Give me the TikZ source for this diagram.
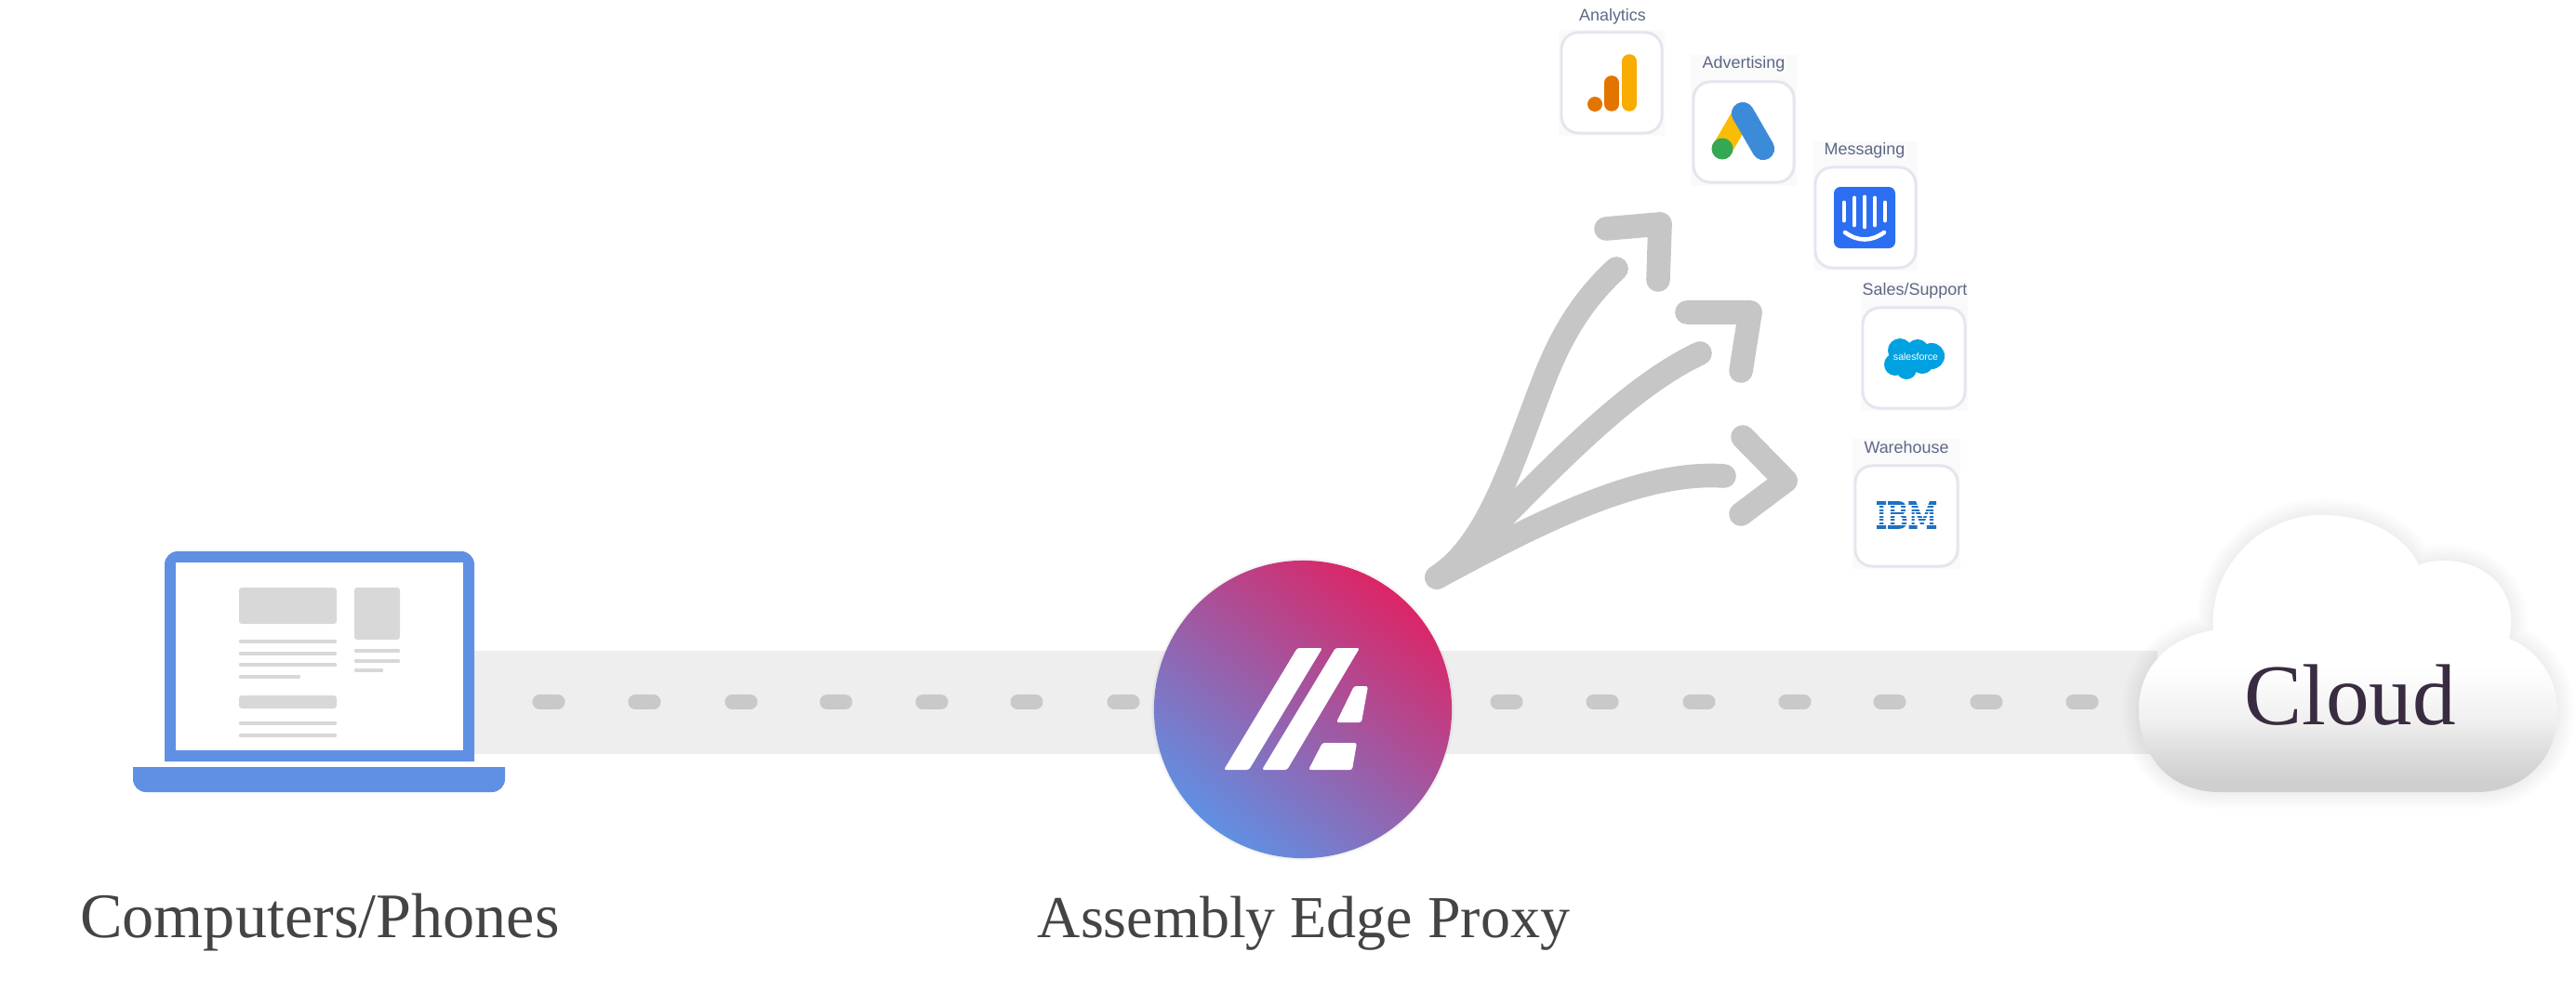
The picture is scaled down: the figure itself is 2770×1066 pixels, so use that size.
\documentclass[tikz,border=0pt]{standalone}
\usepackage{fontspec}
\usepackage{graphicx}
\setmainfont{Liberation Serif}
\newfontfamily\cardfont{Liberation Sans}
\newfontfamily\ibmfont[FakeBold=4.5]{DejaVu Serif}
\definecolor{roadgray}{HTML}{EEEEEE}
\definecolor{dashgray}{HTML}{C9C9C9}
\definecolor{fangray}{HTML}{C6C6C6}
\definecolor{sketchgray}{HTML}{D8D8D8}
\definecolor{laptopblue}{HTML}{6090E3}
\definecolor{proxyred}{HTML}{DC2566}
\definecolor{cardedge}{HTML}{E4E6EE}
\definecolor{cardback}{HTML}{FAFAFB}
\definecolor{cardtext}{HTML}{5D6784}
\definecolor{captiontext}{HTML}{444444}
\definecolor{cloudtext}{HTML}{3A2C40}
\definecolor{gaorange}{HTML}{E37400}
\definecolor{gayellow}{HTML}{F9AB00}
\definecolor{adsyellow}{HTML}{FABC04}
\definecolor{adsgreen}{HTML}{34A852}
\definecolor{adsblue}{HTML}{3C8BD9}
\definecolor{chatblue}{HTML}{2C6EF2}
\definecolor{sfblue}{HTML}{00A1E0}
\definecolor{ibmblue}{HTML}{1F70C1}
\pgfdeclareverticalshading{cloudshade}{100bp}{color(0bp)=(white!81!black); color(27bp)=(white!81!black); color(32.5bp)=(white!87!black); color(38bp)=(white!94!black); color(44bp)=(white!98!black); color(48bp)=(white); color(100bp)=(white)}
\tikzset{
	road/.style={roadgray,line width=31.6pt},
	roaddash/.style={dashgray,line width=4.3pt,line cap=round},
	fanline/.style={fangray,line width=7.3pt,line cap=round,line join=round},
	sketchline/.style={sketchgray,line width=1.3pt,line cap=round},
	sketchblock/.style={sketchgray,rounded corners=.03cm},
	appcard/.style={draw=cardedge,fill=white,line width=.85pt,rounded corners=.18cm,minimum width=1.08cm,minimum height=1.08cm,inner sep=0pt},
	applabel/.style={text=cardtext,font=\cardfont\fontsize{5.1}{6}\selectfont,inner sep=0pt},
	caption/.style={text=captiontext,inner sep=0pt,anchor=base},
	cloudshape/.style={insert path={(2387,852) .. controls (2330,852) and (2300,810) .. (2300,763) .. controls (2300,715) and (2335,685) .. (2380,678) .. controls (2375,610) and (2430,554) .. (2497,554) .. controls (2545,554) and (2585,575) .. (2601,608) .. controls (2610,604) and (2618,603) .. (2627,603) .. controls (2670,603) and (2700,630) .. (2700,667) .. controls (2700,675) and (2699,681) .. (2698,687) .. controls (2730,700) and (2750,730) .. (2750,767) .. controls (2750,815) and (2715,852) .. (2663,852) -- cycle}}
}
\begin{document}
\begin{tikzpicture}[x=.01cm,y=-.01cm]
	\useasboundingbox (0,0) rectangle (2770,1066);
	\coordinate (laptop) at (510,755.5);
	\coordinate (edge) at (1401,755.5);
	\coordinate (cloud) at (2320,755.5);
	\draw[road] (laptop) -- (edge) -- (cloud);
	\foreach \x in {590,693,797,899,1002,1104,1208,1620,1723,1827,1930,2032,2136,2239}
		\draw[roaddash] (\x-10,755) -- (\x+10,755);

	\fill[laptopblue] (177,819) [rounded corners=.14cm] -- (177,593) -- (510,593) [sharp corners] -- (510,819) -- cycle;
	\node[fill=white,minimum width=3.09cm,minimum height=2.02cm,inner sep=0pt] (screen) at (343.5,706) {};
	\fill[laptopblue] (143,825) -- (543,825) [rounded corners=.14cm] -- (543,852) -- (143,852) [sharp corners] -- cycle;
	\fill[sketchblock] (257,632) rectangle (362,671);
	\fill[sketchblock] (257,748) rectangle (362,762);
	\fill[sketchblock] (381,632) rectangle (430,688);
	\draw[sketchline] (259,690) -- (360,690);
	\draw[sketchline] (259,703) -- (360,703);
	\draw[sketchline] (259,715) -- (360,715);
	\draw[sketchline] (259,728) -- (321,728);
	\draw[sketchline] (259,778) -- (360,778);
	\draw[sketchline] (259,791) -- (360,791);
	\draw[sketchline] (383,700) -- (428,700);
	\draw[sketchline] (383,711) -- (428,711);
	\draw[sketchline] (383,721) -- (410,721);

	\foreach \r in {161,162,163}
		\fill[black,opacity=.02] (1401,763) circle (\r);
	\node[circle,minimum size=3.2cm,inner sep=0pt,bottom color=laptopblue,top color=proxyred,shading angle=-38] (proxy) at (1401,763) {};
	\fill[white,rounded corners=.025cm] (1395,697) -- (1422,697) -- (1343,828) -- (1316,828) -- cycle;
	\fill[white,rounded corners=.025cm] (1436,697) -- (1462,697) -- (1384,828) -- (1357,828) -- cycle;
	\fill[white,rounded corners=.025cm] (1456,738) -- (1471,738) -- (1464,777) -- (1437,777) -- cycle;
	\fill[white,rounded corners=.025cm] (1422,799) -- (1459,799) -- (1454,828) -- (1407,828) -- cycle;

	\foreach \w in {10,8,6,4,2}
		\draw[black,opacity=.012,line width=\w pt,line join=round,cloudshape];
	\path[shading=cloudshade,cloudshape];
	\node[text=cloudtext,font=\fontsize{26.5}{30}\selectfont,inner sep=0pt,anchor=base] (cloudlabel) at (2527,779) {Cloud};

	\coordinate (fan) at (1545,621);
	\coordinate (fanA) at (1738,289);
	\coordinate (fanB) at (1828,380);
	\coordinate (fanC) at (1854,512);
	\draw[fanline] (fan) .. controls (1600,585) and (1625,500) .. (1657,417) .. controls (1680,355) and (1705,320) .. (fanA);
	\draw[fanline] (fan) .. controls (1600,585) and (1720,430) .. (fanB);
	\draw[fanline] (fan) .. controls (1640,570) and (1760,505) .. (fanC);
	\draw[fanline] (1727,246) -- (1785,241) -- (1783,301);
	\draw[fanline] (1814,336) -- (1882,336) -- (1872,399);
	\draw[fanline] (1874,470) -- (1920,517) -- (1872,553);

	\fill[cardback] (1676,32) rectangle (1790,146);
	\fill[cardback] (1818,59) rectangle (1932,200);
	\fill[cardback] (1950,152) rectangle (2062,291);
	\fill[cardback] (2001,303) rectangle (2116,442);
	\fill[cardback] (1992,472) rectangle (2108,612);

	\node[appcard] (analytics) at (1733,89) {};
	\node[applabel] (analyticslabel) at (1734,18) {Analytics};
	\fill[gaorange] (1715,112) circle (8);
	\draw[gaorange,line width=4.4pt,line cap=round] (1733,89) -- (1733,112);
	\draw[gayellow,line width=4.4pt,line cap=round] (1752,66) -- (1752,112);

	\node[appcard] (advertising) at (1875,142) {};
	\node[applabel] (advertisinglabel) at (1875,69) {Advertising};
	\draw[adsyellow,line width=6.2pt,line cap=round] (1874,122) -- (1852,160);
	\fill[adsgreen] (1852,160) circle (11.5);
	\draw[adsblue,line width=6.9pt,line cap=round] (1874,122) -- (1896,160);

	\node[appcard] (messaging) at (2006,234) {};
	\node[applabel] (messaginglabel) at (2005,162) {Messaging};
	\fill[chatblue,rounded corners=.07cm] (1972,201) rectangle (2038,267);
	\draw[white,line width=1.35pt,line cap=round] (1983,218) -- (1983,237);
	\draw[white,line width=1.35pt,line cap=round] (1994,213) -- (1994,242);
	\draw[white,line width=1.35pt,line cap=round] (2005,212) -- (2005,244);
	\draw[white,line width=1.35pt,line cap=round] (2016,213) -- (2016,242);
	\draw[white,line width=1.35pt,line cap=round] (2027,218) -- (2027,237);
	\draw[white,line width=1.3pt,line cap=round] (1984,250) .. controls (1998,260) and (2012,260) .. (2026,250);

	\node[appcard,minimum width=1.1cm] (sales) at (2058,385) {};
	\node[applabel] (saleslabel) at (2059,313) {Sales/Support};
	\fill[sfblue] (2043,377) circle (13) (2062,377) circle (12) (2077,383) circle (14) (2038,392) circle (12) (2050,397) circle (11) (2067,390) circle (12) (2055,385) circle (14);
	\node[text=white,font=\cardfont\fontsize{3}{4}\selectfont,inner sep=0pt] (salesforce) at (2060,384) {salesforce};

	\node[appcard,minimum width=1.1cm] (warehouse) at (2050,555) {};
	\node[applabel] (warehouselabel) at (2050,481) {Warehouse};
	\node[text=ibmblue,inner sep=0pt] (ibm) at (2050,554) {\resizebox{.66cm}{.28cm}{\ibmfont IBM}};
	\foreach \y in {543.5,547,550.5,554,557.5,561,564.5}
		\draw[white,line width=.38pt] (2015,\y) -- (2085,\y);

	\node[caption,font=\fontsize{19.4}{23}\selectfont] (computers) at (344,1008) {Computers/Phones};
	\node[caption,font=\fontsize{18.2}{22}\selectfont] (proxylabel) at (1402,1008) {Assembly Edge Proxy};
\end{tikzpicture}
\end{document}
